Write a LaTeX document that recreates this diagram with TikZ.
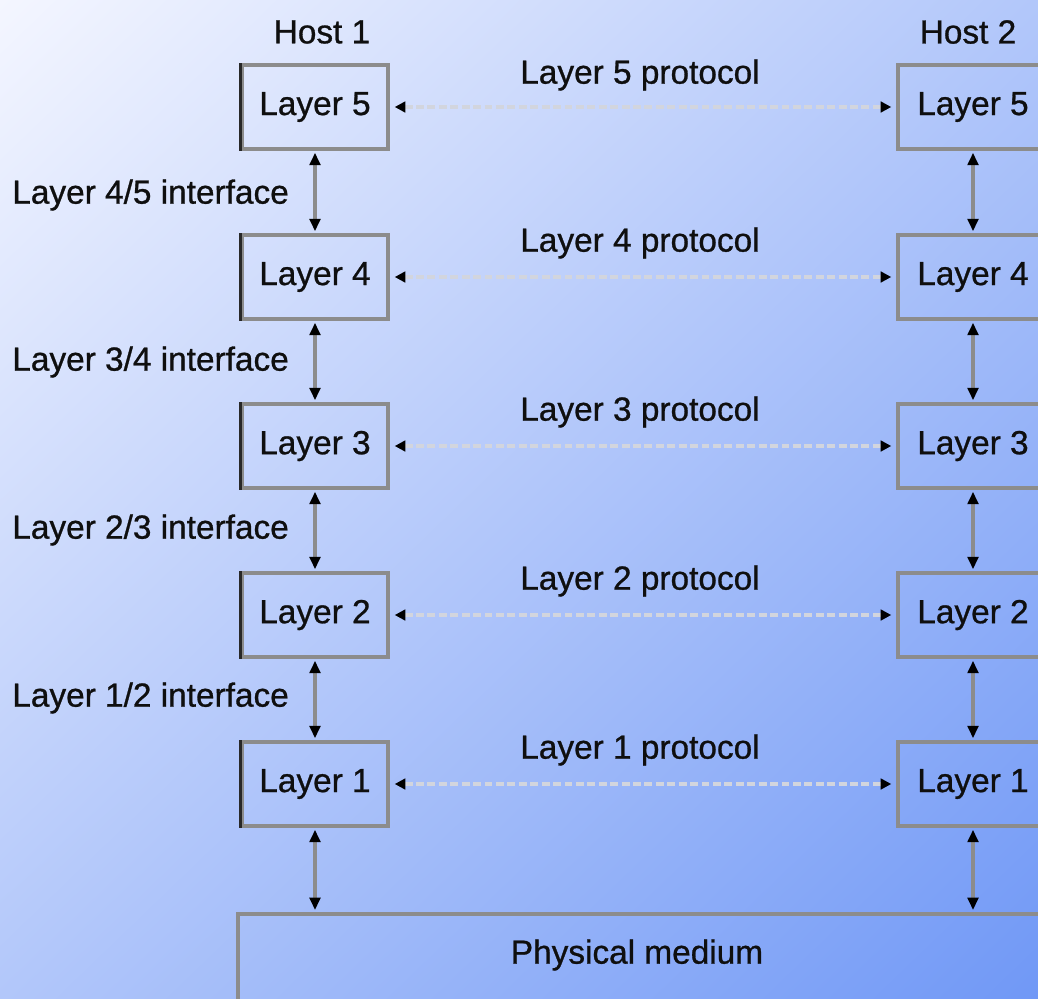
\documentclass[tikz,border=0pt]{standalone}
\usepackage{fontspec}
\setmainfont[FakeBold=0.8]{Liberation Sans}
\usetikzlibrary{arrows.meta,shadings}
\newlength\pxu
\setlength\pxu{0.02cm}
\definecolor{bgtl}{RGB}{244,246,255}
\definecolor{bgbr}{RGB}{112,152,246}
\definecolor{bgmid}{RGB}{178,199,250}
\definecolor{edge}{RGB}{140,140,140}
\definecolor{edgedark}{RGB}{40,40,40}
\definecolor{dashcol}{RGB}{210,213,222}
\definecolor{ink}{RGB}{15,15,15}
\begin{document}
\begin{tikzpicture}[x=0.02cm,y=-0.02cm,
  txt/.style={font=\fontsize{19}{22}\selectfont, text=ink, inner sep=0pt},
  layerbox/.style={draw=edge, line width=3.5\pxu, minimum width=146\pxu, minimum height=84\pxu, txt},
  vlink/.style={draw=edge, line width=4\pxu, {Triangle[black,length=7pt,width=6pt]}-{Triangle[black,length=7pt,width=6pt]}, shorten <=2\pxu, shorten >=2\pxu},
  plink/.style={draw=dashcol, line width=3.5\pxu, dash pattern=on 4.5pt off 2pt, {Triangle[black,length=6pt,width=6pt]}-{Triangle[black,length=6pt,width=6pt]}, shorten <=5\pxu, shorten >=5\pxu}
]
\useasboundingbox (0,0) rectangle (1038,998);
\begin{scope}
\clip (0,0) rectangle (1038,998);
% diagonal background gradient
\shade[upper left=bgtl, lower right=bgbr, upper right=bgmid, lower left=bgmid] (0,0) rectangle (1038,998);

% host headings
\node[txt] (h1) at (322,32) {Host 1};
\node[txt] (h2) at (968,32) {Host 2};

% left and right stacks
\foreach \n/\y in {5/107,4/277,3/446,2/615,1/784}{
  \node[layerbox] (L\n) at (315,\y) {Layer \n};
  \draw[edgedark, line width=3.5\pxu] (L\n.south west) -- (L\n.north west);
  \node[layerbox, minimum width=150\pxu] (R\n) at (973,\y) {Layer \n};
}

% physical medium
\node[draw=edge, line width=3.5\pxu, minimum width=830\pxu, minimum height=100\pxu, anchor=north west] (pm) at (236,912) {};
\node[txt] (pmt) at (637,955) {Physical medium};

% protocol labels and peer links
\foreach \n/\y in {5/75,4/243,3/412,2/581,1/750}{
  \node[txt] (P\n) at (640,\y) {Layer \n\ protocol};
  \draw[plink] (L\n.east) -- (R\n.west);
}

% interface labels
\node[txt, anchor=west] (I45) at (12,195) {Layer 4/5 interface};
\node[txt, anchor=west] (I34) at (12,362) {Layer 3/4 interface};
\node[txt, anchor=west] (I23) at (12,530) {Layer 2/3 interface};
\node[txt, anchor=west] (I12) at (12,698) {Layer 1/2 interface};

% vertical interface links
\foreach \a/\b in {5/4,4/3,3/2,2/1}{
  \draw[vlink] (L\a.south) -- (L\b.north);
  \draw[vlink] (R\a.south) -- (R\b.north);
}
\coordinate (pmL) at (L1.south |- pm.north);
\coordinate (pmR) at (R1.south |- pm.north);
\draw[vlink] (L1.south) -- (pmL);
\draw[vlink] (R1.south) -- (pmR);
\end{scope}
\end{tikzpicture}
\end{document}
